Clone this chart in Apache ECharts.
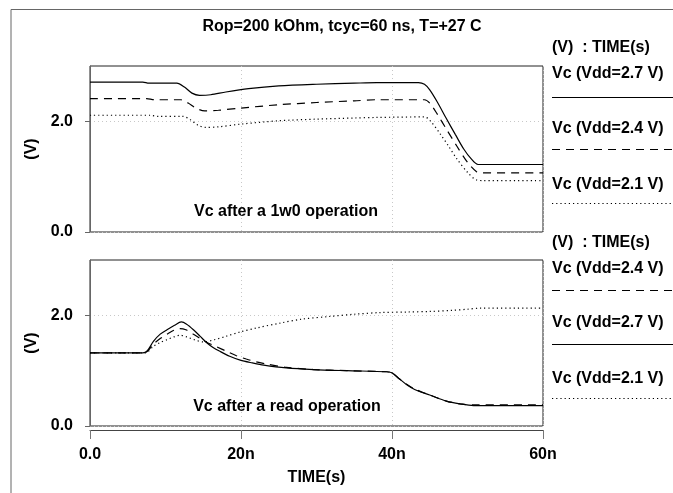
<!DOCTYPE html>
<html>
<head>
<meta charset="utf-8">
<script src="https://cdn.jsdelivr.net/npm/echarts@6/dist/echarts.min.js"></script>
<style>
  html, body { margin: 0; padding: 0; background: #fff; }
  #chart { width: 673px; height: 493px; }
</style>
</head>
<body>
<div id="chart"></div>
<script>
// time in ns, voltage in V
const timeTicks = [0, 20, 40, 60]
const voltTicks = [0, 2]

// top panel: Vc after a 1w0 operation
const w0Vdd27 = [[0,2.71],[7,2.71],[7.8,2.69],[11.5,2.69],[12.5,2.62],[13.5,2.51],[14.5,2.47],[16,2.48],[18,2.53],[21,2.59],[25,2.64],[30,2.67],[35,2.69],[38,2.70],[43.5,2.70],[44.3,2.67],[45,2.57],[46,2.35],[47.2,2.05],[48.4,1.76],[49.5,1.50],[50.5,1.32],[51.4,1.22],[60,1.22]]
const w0Vdd24 = [[0,2.41],[7.5,2.41],[8.5,2.39],[12,2.39],[13,2.33],[14,2.24],[15.2,2.19],[17,2.20],[20,2.24],[25,2.30],[30,2.34],[35,2.37],[38,2.39],[44.3,2.39],[45,2.33],[46,2.13],[47.2,1.86],[48.6,1.55],[50,1.26],[51.2,1.09],[52,1.07],[60,1.07]]
const w0Vdd21 = [[0,2.11],[8,2.11],[9,2.09],[12.3,2.09],[13.3,2.03],[14.3,1.93],[15.3,1.89],[17,1.90],[20,1.95],[25,2.01],[30,2.04],[35,2.06],[38,2.07],[44.3,2.08],[45,2.02],[46.4,1.77],[47.5,1.55],[48.6,1.32],[50,1.08],[51.2,0.94],[52,0.93],[60,0.93]]

// bottom panel: Vc after a read operation
const rdVdd27 = [[0,1.32],[7,1.32],[7.6,1.36],[8.4,1.53],[9.3,1.66],[10.2,1.74],[11.2,1.82],[12.1,1.88],[12.8,1.84],[13.7,1.74],[14.6,1.62],[15.5,1.50],[16.3,1.42],[17.2,1.35],[18.5,1.26],[19.9,1.19],[21.5,1.14],[23,1.10],[26,1.05],[29.6,1.02],[34,1.00],[39.3,0.98],[40,0.96],[41,0.85],[42,0.74],[43,0.66],[45,0.56],[47.2,0.45],[49,0.40],[50.8,0.37],[60,0.37]]
const rdVdd24 = [[0,1.32],[7,1.32],[7.6,1.35],[8.4,1.48],[9.3,1.58],[10.2,1.66],[11.1,1.73],[11.9,1.76],[12.7,1.74],[13.7,1.66],[14.6,1.58],[15.5,1.51],[16.8,1.43],[18.1,1.35],[19.4,1.27],[20.7,1.21],[22,1.16],[23.4,1.12],[26,1.06],[29.6,1.02],[34,1.00],[39.3,0.98],[40,0.96],[41,0.85],[42,0.75],[43,0.67],[45,0.56],[47.2,0.45],[49,0.40],[50.8,0.38],[60,0.38]]
const rdVdd21 = [[0,1.32],[7.3,1.32],[8.4,1.44],[9.3,1.51],[10.2,1.56],[11.1,1.61],[11.9,1.64],[12.8,1.61],[13.8,1.56],[15,1.52],[16.5,1.56],[18,1.62],[19.9,1.70],[22,1.77],[25.2,1.86],[28,1.93],[31.8,1.98],[35,2.02],[38.4,2.05],[42,2.06],[45,2.07],[48,2.09],[50,2.11],[51.7,2.13],[60,2.13]]

const title = 'Rop=200 kOhm, tcyc=60 ns, T=+27 C'
const legendHead = '(V)  : TIME(s)'
const topLegend = ['Vc (Vdd=2.7 V)', 'Vc (Vdd=2.4 V)', 'Vc (Vdd=2.1 V)']
const bottomLegend = ['Vc (Vdd=2.4 V)', 'Vc (Vdd=2.7 V)', 'Vc (Vdd=2.1 V)']
const topNote = 'Vc after a 1w0 operation'
const bottomNote = 'Vc after a read operation'

const FONT = '"Liberation Sans", Arial, sans-serif'
const solid = { color: '#000', width: 1.2, type: 'solid' }
const dashed = { color: '#000', width: 1.2, type: [8, 6] }
const dotted = { color: '#000', width: 1.2, type: [1.2, 3] }

const chart = echarts.init(document.getElementById('chart'), null, { renderer: 'canvas' })

const txt = (x, y, text, align) => ({
  type: 'text',
  x, y,
  style: { text, font: 'bold 16px ' + FONT, fill: '#000', align: align || 'left', verticalAlign: 'middle' }
})
const seg = (y, style) => ({
  type: 'line',
  shape: { x1: 552, y1: y, x2: 673, y2: y },
  style: { stroke: '#000', lineWidth: 1.2, lineDash: style.type === 'solid' ? null : style.type }
})

const yAxisBase = (gridIndex) => ({
  type: 'value',
  gridIndex,
  min: 0,
  max: 3,
  interval: 2,
  offset: 4,
  name: '(V)',
  nameLocation: 'middle',
  nameRotate: 90,
  nameGap: 40,
  nameTextStyle: { fontFamily: FONT, fontWeight: 'bold', fontSize: 16, color: '#000' },
  axisLine: { show: true, lineStyle: { color: '#666' } },
  axisTick: { show: true, length: 5, customValues: voltTicks, lineStyle: { color: '#666' } },
  axisLabel: {
    customValues: voltTicks,
    margin: 13,
    fontFamily: FONT, fontWeight: 'bold', fontSize: 16, color: '#000',
    formatter: v => v.toFixed(1)
  },
  splitLine: { show: true, lineStyle: { color: '#c8c8c8', type: [1, 3] } }
})

const option = {
  animation: false,
  backgroundColor: '#fff',
  grid: [
    { left: 90, top: 66, width: 453, height: 166, show: true, borderColor: '#222', borderWidth: 1 },
    { left: 90, top: 260, width: 453, height: 166, show: true, borderColor: '#222', borderWidth: 1 }
  ],
  xAxis: [
    {
      type: 'value', gridIndex: 0, min: 0, max: 60, interval: 20,
      axisLine: { show: false }, axisTick: { show: false }, axisLabel: { show: false },
      splitLine: { show: true, lineStyle: { color: '#c8c8c8', type: [1, 3] } }
    },
    {
      type: 'value', gridIndex: 1, min: 0, max: 60, interval: 20,
      offset: 4,
      name: 'TIME(s)',
      nameLocation: 'middle',
      nameGap: 40,
      nameTextStyle: { fontFamily: FONT, fontWeight: 'bold', fontSize: 16, color: '#000' },
      axisLine: { show: true, onZero: false, lineStyle: { color: '#444' } },
      axisTick: { show: true, length: 9, lineStyle: { color: '#777' } },
      axisLabel: {
        margin: 17,
        fontFamily: FONT, fontWeight: 'bold', fontSize: 16, color: '#000',
        formatter: v => (v === 0 ? '0.0' : v + 'n')
      },
      splitLine: { show: true, lineStyle: { color: '#c8c8c8', type: [1, 3] } }
    }
  ],
  yAxis: [yAxisBase(0), yAxisBase(1)],
  series: [
    { name: topLegend[0], type: 'line', xAxisIndex: 0, yAxisIndex: 0, data: w0Vdd27, lineStyle: solid },
    { name: topLegend[1], type: 'line', xAxisIndex: 0, yAxisIndex: 0, data: w0Vdd24, lineStyle: dashed },
    { name: topLegend[2], type: 'line', xAxisIndex: 0, yAxisIndex: 0, data: w0Vdd21, lineStyle: dotted },
    { name: bottomLegend[0], type: 'line', xAxisIndex: 1, yAxisIndex: 1, data: rdVdd24, lineStyle: dashed },
    { name: bottomLegend[1], type: 'line', xAxisIndex: 1, yAxisIndex: 1, data: rdVdd27, lineStyle: solid },
    { name: bottomLegend[2], type: 'line', xAxisIndex: 1, yAxisIndex: 1, data: rdVdd21, lineStyle: dotted }
  ].map(s => ({ ...s, symbol: 'none', smooth: 0.3, emphasis: { disabled: true }, z: 3 })),
  graphic: [
    { type: 'polyline', shape: { points: [[11, 493], [11, 9.5], [673, 9.5]] }, style: { stroke: '#666', fill: null, lineWidth: 1 } },
    txt(342, 27, title, 'center'),
    txt(552, 48, legendHead),
    txt(552, 74, topLegend[0]), seg(97.5, solid),
    txt(552, 129, topLegend[1]), seg(149.5, dashed),
    txt(552, 185, topLegend[2]), seg(203.5, dotted),
    txt(552, 243, legendHead),
    txt(552, 269, bottomLegend[0]), seg(290.5, dashed),
    txt(552, 323, bottomLegend[1]), seg(344.5, solid),
    txt(552, 379, bottomLegend[2]), seg(398.5, dotted),
    txt(286, 212, topNote, 'center'),
    txt(287, 407, bottomNote, 'center')
  ]
}

chart.setOption(option)
</script>
</body>
</html>
